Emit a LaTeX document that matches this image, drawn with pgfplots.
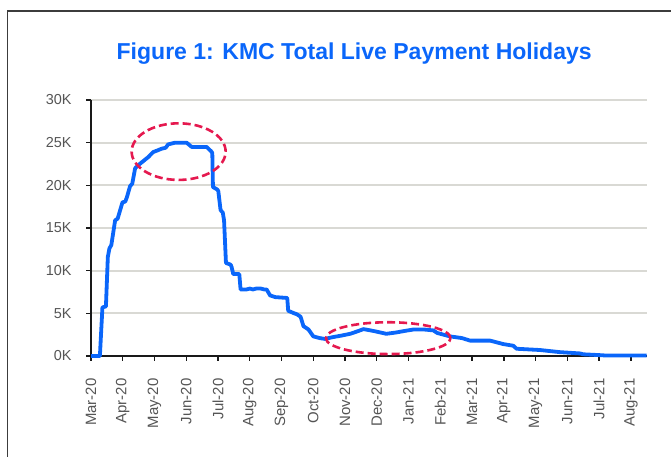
\documentclass[border=0pt]{standalone}
\usepackage{pgfplots}
\pgfplotsset{compat=1.18}
\usepackage{fontspec}
\setmainfont{Liberation Sans}
\definecolor{kblue}{RGB}{10,102,250}
\definecolor{kred}{RGB}{229,25,79}
\definecolor{kgrid}{RGB}{217,217,212}
\definecolor{klabel}{RGB}{85,85,85}
\definecolor{kframe}{RGB}{60,60,60}
\begin{document}
\begin{tikzpicture}[x=1bp,y=1bp]
\useasboundingbox (0,0) rectangle (671,457);
\draw[kframe, line width=1.6bp] (7.5,0) -- (7.5,446) -- (671,446);
\node[anchor=base, text=kblue, inner sep=0pt] at (354.2,397.7)
  {\resizebox{475bp}{!}{\bfseries Figure 1: KMC Total Live Payment Holidays}};
\begin{axis}[
  at={(91bp,101bp)}, anchor=south west,
  scale only axis, width=555.7bp, height=256bp,
  xmin=0, xmax=17.5, ymin=0, ymax=30,
  clip=false,
  axis x line*=bottom, axis y line*=left,
  axis line style={-, black!90, line width=1.6bp},
  xtick={0,...,17},
  xticklabels={Mar-20,Apr-20,May-20,Jun-20,Jul-20,Aug-20,Sep-20,Oct-20,Nov-20,Dec-20,Jan-21,Feb-21,Mar-21,Apr-21,May-21,Jun-21,Jul-21,Aug-21},
  ytick={0,5,...,30},
  yticklabels={0K,5K,10K,15K,20K,25K,30K},
  tick align=outside,
  major tick length=5bp,
  tick style={black!90, line width=1.4bp},
  ymajorgrids,
  grid style={kgrid, line width=1.8bp},
  x tick label style={rotate=90, anchor=east, font=\fontsize{15}{16}\selectfont, text=klabel, xshift=-14bp},
  y tick label style={anchor=east, font=\fontsize{14.5}{15}\selectfont, text=klabel, xshift=-11bp},
]
\addplot[kblue, line width=3.8bp, line join=round] coordinates {
(0,0) (0.28,0) (0.36,5.7) (0.47,5.8) (0.53,11.6) (0.58,12.6) (0.64,13.0)
(0.76,15.9) (0.84,16.1) (0.99,18.0) (1.08,18.1) (1.13,18.6) (1.23,19.9)
(1.30,20.2) (1.39,22.0) (1.5,22.4) (1.7,23.0) (1.8,23.3) (1.96,23.9)
(2.1,24.1) (2.23,24.3) (2.35,24.4) (2.43,24.8) (2.65,25.0) (3.01,25.0)
(3.17,24.5) (3.64,24.5) (3.78,24.0) (3.82,23.8) (3.84,19.8) (3.98,19.5)
(4.01,19.3) (4.08,17.1) (4.15,16.8) (4.19,15.9) (4.25,10.9) (4.40,10.7)
(4.43,10.4) (4.48,9.6) (4.67,9.6) (4.71,7.8) (4.9,7.8) (5.0,7.9) (5.1,7.8)
(5.2,7.9) (5.35,7.9) (5.45,7.8) (5.53,7.8) (5.64,7.1) (5.8,6.9) (6.18,6.8)
(6.21,5.3) (6.4,5.0) (6.48,4.9) (6.6,4.6) (6.69,3.5) (6.85,3.1) (7.0,2.3)
(7.2,2.1) (7.37,2.0) (7.6,2.2) (7.9,2.4) (8.16,2.6) (8.4,2.9) (8.58,3.15)
(8.8,3.0) (9.0,2.85) (9.3,2.6) (9.6,2.75) (9.9,2.95) (10.15,3.1) (10.5,3.1)
(10.78,3.0) (10.9,2.7) (11.3,2.3) (11.68,2.1) (11.94,1.8) (12.57,1.8)
(12.98,1.4) (13.3,1.2) (13.4,0.85) (14.14,0.7) (14.77,0.45) (15.4,0.3)
(15.5,0.2) (16.03,0.1) (16.24,0.05) (17.5,0.05)
};
\draw[kred, line width=2.6bp, dash pattern=on 8bp off 4bp]
  (axis cs:2.76,23.95) ellipse [x radius=47bp, y radius=28.3bp];
\draw[kred, line width=2.6bp, dash pattern=on 8bp off 4bp]
  (axis cs:9.36,2.09) ellipse [x radius=62.3bp, y radius=15.9bp];
\end{axis}
\end{tikzpicture}
\end{document}
